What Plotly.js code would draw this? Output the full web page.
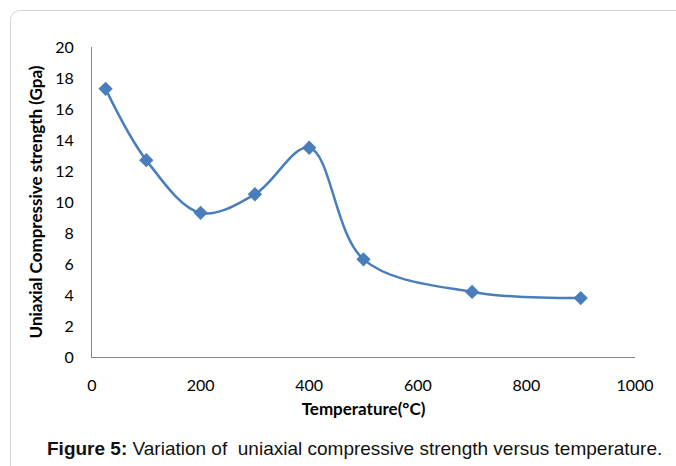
<!DOCTYPE html>
<html>
<head>
<meta charset="utf-8">
<script src="https://cdn.plot.ly/plotly-3.0.1.min.js"></script>
<style>
html,body{margin:0;padding:0;overflow:hidden;background:#fff;}
#wrap{position:relative;width:676px;height:466px;}
#frame{position:absolute;left:10px;top:10px;width:720px;height:520px;border:1.5px solid #d4d4d4;border-radius:10px;}
#chart{position:absolute;left:0;top:0;width:676px;height:466px;}
</style>
</head>
<body>
<div id="wrap">
<div id="frame"></div>
<div id="chart"></div>
</div>
<script>
const temperature = [25, 100, 200, 300, 400, 500, 700, 900];
const strength = [17.3, 12.7, 9.3, 10.5, 13.5, 6.3, 4.2, 3.8];
const xTicks = [0, 200, 400, 600, 800, 1000];
const yTicks = [0, 2, 4, 6, 8, 10, 12, 14, 16, 18, 20];

const trace = {
  x: temperature,
  y: strength,
  type: 'scatter',
  mode: 'lines+markers',
  line: {shape: 'spline', smoothing: 1, color: '#4A7EBB', width: 2.5},
  marker: {symbol: 'diamond', size: 11, color: '#4A7EBB'},
  hoverinfo: 'skip'
};

const layout = {
  width: 676, height: 466, autosize: false,
  margin: {l: 92, r: 41, t: 47, b: 109},
  paper_bgcolor: 'rgba(0,0,0,0)',
  plot_bgcolor: 'rgba(0,0,0,0)',
  showlegend: false,
  font: {family: 'Lato, sans-serif', color: '#000'},
  xaxis: {
    range: [0, 1000], tickvals: xTicks, ticktext: xTicks.map(String),
    showgrid: false, zeroline: false, showline: true, linecolor: '#868686', linewidth: 1,
    ticks: '', tickfont: {family: 'Lato, sans-serif', size: 16, color: '#000'},
    ticklabelstandoff: 14,
    title: {text: '<b>Temperature(°C)</b>', font: {family: 'Lato, sans-serif', size: 17, color: '#000'}, standoff: 9}
  },
  yaxis: {
    range: [0, 20], tickvals: yTicks, ticktext: yTicks.map(String),
    showgrid: false, zeroline: false, showline: true, linecolor: '#868686', linewidth: 1,
    ticks: '', tickfont: {family: 'Lato, sans-serif', size: 16, color: '#000'},
    ticklabelstandoff: 14,
    title: {text: '<b>Uniaxial Compressive strength (Gpa)</b>', font: {family: 'Lato, sans-serif', size: 17, color: '#000'}, standoff: 8}
  },
  annotations: [{
    xref: 'paper', yref: 'paper',
    x: (354 - 92) / 543, y: (357 - 448) / 310,
    xanchor: 'center', yanchor: 'middle', showarrow: false,
    text: '<b>Figure 5:</b> Variation of  uniaxial compressive strength versus temperature.',
    font: {family: 'Liberation Sans, Arial, sans-serif', size: 19, color: '#111'}
  }]
};

Plotly.newPlot('chart', [trace], layout, {displayModeBar: false, staticPlot: true});
</script>
</body>
</html>
